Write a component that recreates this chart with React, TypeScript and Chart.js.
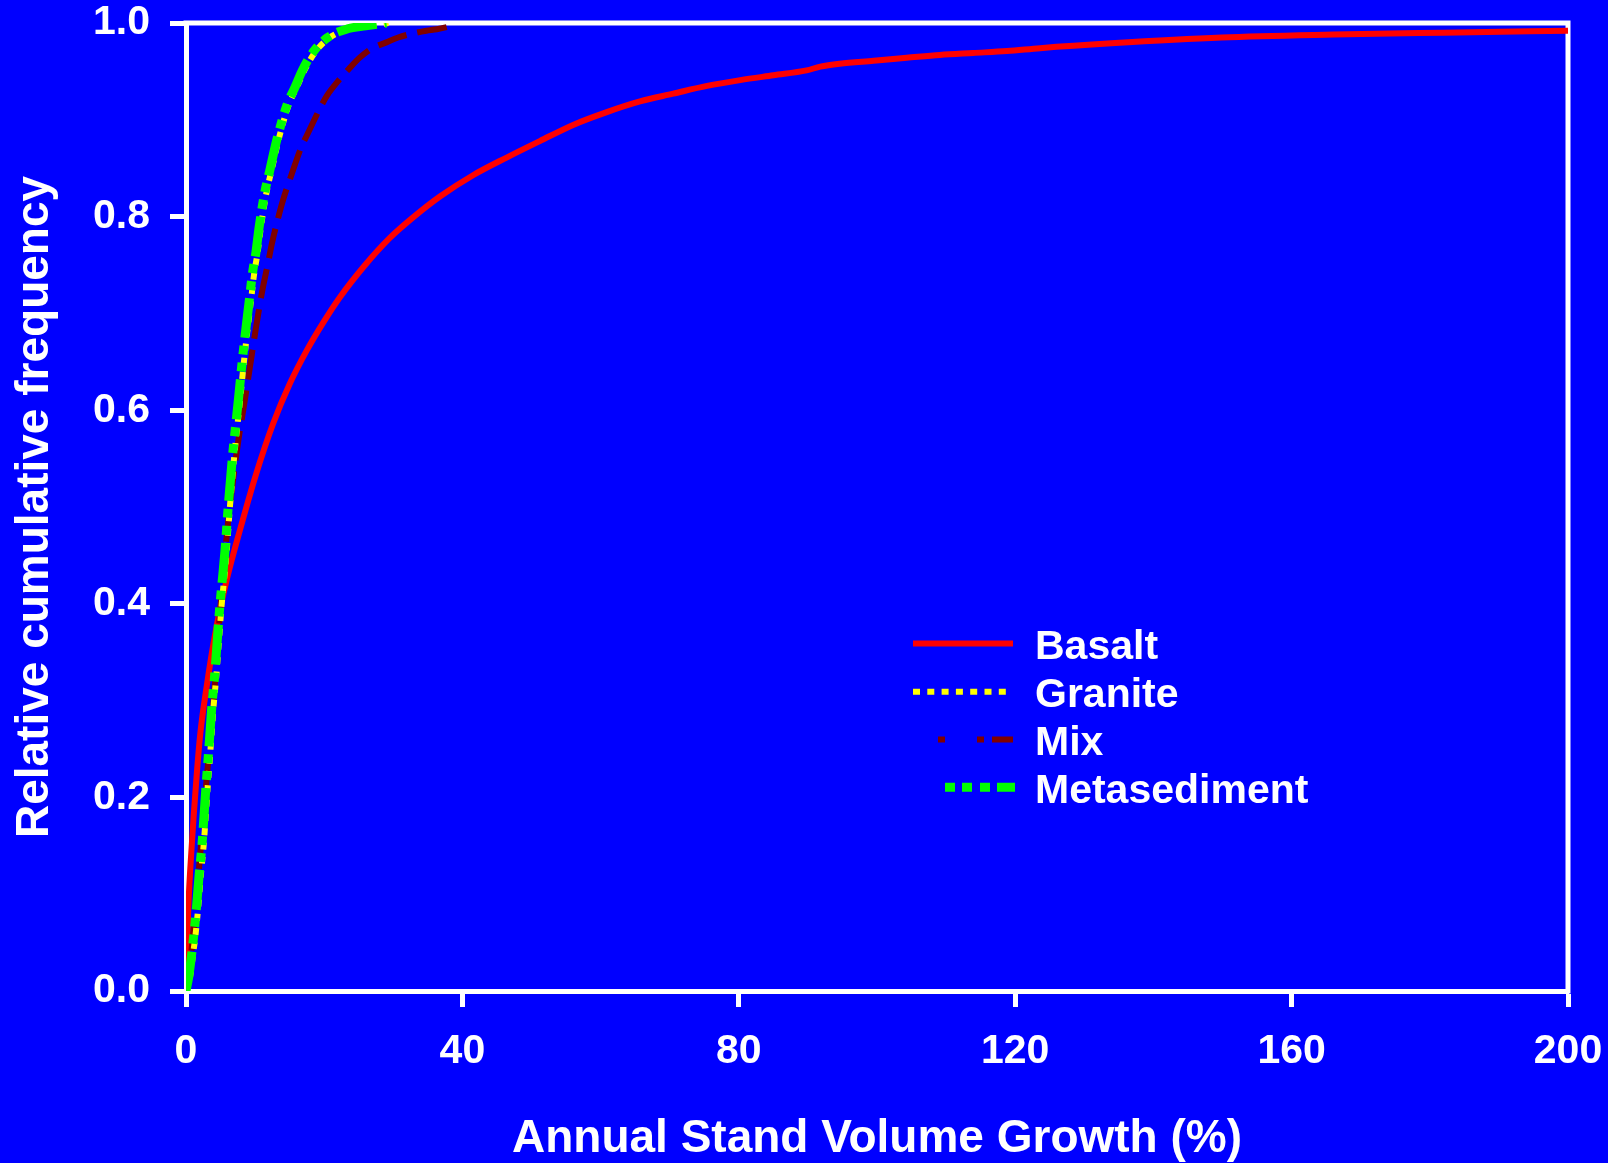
import React, { useEffect, useRef } from "react";
import { Chart, registerables } from "chart.js";

Chart.register(...registerables);

// Annual stand volume growth (%) vs relative cumulative frequency, by parent rock
const seriesNames = ["Basalt", "Granite", "Mix", "Metasediment"];
const xAxisTitle = "Annual Stand Volume Growth (%)";
const yAxisTitle = "Relative cumulative frequency";

const basaltX = [0, 0.3, 0.65, 1.1, 1.6, 2.07, 3.0, 4.25, 5.9, 7.8, 10.1, 12.6, 15.0, 17.5, 19.9, 22.3, 25.8, 29.5, 33.0, 36.8, 41.6, 46.4, 51.2, 56.1, 60.9, 65.7, 70.5, 75.4, 80.2, 85.0, 89.8, 91.8, 94.6, 99.5, 104.3, 109.1, 113.9, 118.8, 123.6, 133.9, 149.9, 166, 182, 200];
const basaltY = [0, 0.08, 0.13, 0.18, 0.228, 0.266, 0.315, 0.37, 0.425, 0.476, 0.533, 0.586, 0.627, 0.662, 0.691, 0.717, 0.749, 0.778, 0.8, 0.821, 0.843, 0.861, 0.878, 0.895, 0.908, 0.919, 0.927, 0.935, 0.941, 0.946, 0.951, 0.955, 0.958, 0.961, 0.964, 0.967, 0.969, 0.971, 0.974, 0.979, 0.985, 0.988, 0.99, 0.992];

const graniteX = [0, 0.6, 1.0, 1.35, 1.75, 2.15, 2.55, 2.85, 3.15, 3.45, 3.75, 4.0, 4.35, 4.75, 5.15, 5.55, 5.95, 6.3, 6.65, 7.05, 7.45, 7.85, 8.35, 8.85, 9.35, 9.9, 10.35, 10.85, 11.65, 12.45, 13.45, 14.85, 16.05, 17.2, 18.7, 20.8, 23.7, 26.3, 29.3];
const graniteY = [0, 0.015, 0.037, 0.056, 0.085, 0.12, 0.15, 0.18, 0.212, 0.24, 0.27, 0.295, 0.322, 0.36, 0.398, 0.428, 0.46, 0.495, 0.525, 0.558, 0.585, 0.612, 0.648, 0.68, 0.71, 0.743, 0.762, 0.79, 0.825, 0.85, 0.881, 0.915, 0.934, 0.952, 0.97, 0.985, 0.994, 0.997, 1.0];

const mixX = [0, 0.6, 1.2, 1.8, 2.4, 3.0, 3.5, 4.1, 4.6, 5.2, 6.1, 6.85, 7.6, 8.4, 9.26, 10.1, 11.0, 11.9, 12.4, 13.1, 14.0, 15.3, 16.7, 17.5, 19.4, 20.4, 22.0, 23.5, 25.2, 27.0, 29.0, 30.7, 32.7, 34.8, 36.3, 38.5];
const mixY = [0, 0.03, 0.07, 0.12, 0.17, 0.22, 0.26, 0.31, 0.36, 0.416, 0.485, 0.53, 0.57, 0.605, 0.645, 0.684, 0.722, 0.753, 0.771, 0.792, 0.816, 0.844, 0.872, 0.884, 0.912, 0.925, 0.94, 0.952, 0.9645, 0.974, 0.98, 0.985, 0.989, 0.992, 0.9935, 0.997];

const metaX = [0, 0.4, 0.8, 1.1, 1.5, 1.9, 2.3, 2.6, 2.9, 3.2, 3.5, 3.75, 4.1, 4.5, 4.9, 5.3, 5.7, 6.05, 6.4, 6.8, 7.2, 7.6, 8.1, 8.6, 9.1, 9.65, 10.1, 10.6, 11.4, 12.2, 13.2, 14.6, 15.8, 16.9, 18.4, 20.5, 23.4, 26, 29];
const metaY = [0, 0.015, 0.037, 0.056, 0.085, 0.12, 0.15, 0.18, 0.212, 0.24, 0.27, 0.295, 0.322, 0.36, 0.398, 0.428, 0.46, 0.495, 0.525, 0.558, 0.585, 0.612, 0.648, 0.68, 0.71, 0.743, 0.762, 0.79, 0.825, 0.85, 0.881, 0.915, 0.934, 0.952, 0.97, 0.985, 0.994, 0.997, 1.0];

const xTickMax = 200;
const xTickStep = 40;
const yTickMax = 1;
const yTickStep = 0.2;

const FONT = "'Liberation Sans', Arial, Helvetica, sans-serif";
const WHITE = "#FFFFFF";
const BG = "#0000FF";

const toPoints = (xs: number[], ys: number[]) => xs.map((x, i) => ({ x, y: ys[i] }));

type Style = { color: string; width: number; dash: number[]; legendDash: number[]; legendFrom: number; legendTo: number };

const styles: Style[] = [
  { color: "#FF0000", width: 6, dash: [], legendDash: [], legendFrom: 913, legendTo: 1013 },
  { color: "#FFFF00", width: 6, dash: [7, 7.3], legendDash: [7, 7.3], legendFrom: 913, legendTo: 1006 },
  { color: "#800000", width: 6, dash: [30, 11], legendDash: [7, 32, 7, 8, 22], legendFrom: 938, legendTo: 1013 },
  { color: "#00FF00", width: 9, dash: [40, 8, 9, 8, 9, 8], legendDash: [10, 7, 10, 8, 10, 7, 18], legendFrom: 945, legendTo: 1015 },
];

// Frame on the top and right of the plot area
const framePlugin = {
  id: "frame",
  beforeDatasetsDraw(chart: any) {
    const { ctx, chartArea } = chart;
    ctx.save();
    ctx.strokeStyle = WHITE;
    ctx.lineWidth = 5;
    ctx.beginPath();
    ctx.moveTo(chartArea.left - 2.5, chartArea.top);
    ctx.lineTo(chartArea.right, chartArea.top);
    ctx.lineTo(chartArea.right, chartArea.bottom + 2.5);
    ctx.stroke();
    ctx.restore();
  },
};

// X axis title, centred under the plot area near the bottom edge
const xTitlePlugin = {
  id: "xTitle",
  afterDraw(chart: any) {
    const { ctx, chartArea } = chart;
    ctx.save();
    ctx.fillStyle = WHITE;
    ctx.font = `bold 46px ${FONT}`;
    ctx.textAlign = "center";
    ctx.textBaseline = "alphabetic";
    ctx.fillText(xAxisTitle, (chartArea.left + chartArea.right) / 2, chart.height - 11);
    ctx.restore();
  },
};

// Line-sample legend inside the plot
const legendPlugin = {
  id: "sampleLegend",
  afterDatasetsDraw(chart: any) {
    const { ctx } = chart;
    const rowY = [643.5, 691.8, 739.5, 787.2];
    ctx.save();
    seriesNames.forEach((name, i) => {
      const s = styles[i];
      ctx.strokeStyle = s.color;
      ctx.lineWidth = s.width;
      ctx.lineCap = "butt";
      ctx.setLineDash(s.legendDash);
      ctx.beginPath();
      ctx.moveTo(s.legendFrom, rowY[i]);
      ctx.lineTo(s.legendTo, rowY[i]);
      ctx.stroke();
      ctx.setLineDash([]);
      ctx.fillStyle = WHITE;
      ctx.font = `bold 41px ${FONT}`;
      ctx.textAlign = "left";
      ctx.textBaseline = "alphabetic";
      ctx.fillText(name, 1035, rowY[i] + 15.5);
    });
    ctx.restore();
  },
};

export default function App() {
  const ref = useRef<HTMLCanvasElement>(null);

  useEffect(() => {
    document.body.style.margin = "0";
    const seriesX = [basaltX, graniteX, mixX, metaX];
    const seriesY = [basaltY, graniteY, mixY, metaY];
    const drawOrder = [3, 1, 2, 0];

    const chart = new Chart(ref.current as HTMLCanvasElement, {
      type: "scatter",
      data: {
        datasets: seriesNames.map((name, i) => ({
          label: name,
          data: toPoints(seriesX[i], seriesY[i]),
          showLine: true,
          borderColor: styles[i].color,
          backgroundColor: styles[i].color,
          borderWidth: styles[i].width,
          borderDash: styles[i].dash,
          borderCapStyle: "butt" as const,
          cubicInterpolationMode: "monotone" as const,
          pointRadius: 0,
          pointHoverRadius: 0,
          order: drawOrder[i],
        })),
      },
      options: {
        responsive: false,
        animation: false,
        events: [],
        layout: { padding: { left: 0, top: 23, right: 40, bottom: 0 } },
        plugins: {
          legend: { display: false },
          tooltip: { enabled: false },
          title: { display: false },
        },
        scales: {
          x: {
            type: "linear",
            min: 0,
            max: xTickMax,
            ticks: {
              stepSize: xTickStep,
              color: WHITE,
              padding: 20,
              maxRotation: 0,
              font: { family: FONT, size: 41, weight: "bold" },
            },
            grid: {
              display: true,
              drawOnChartArea: false,
              drawTicks: true,
              tickLength: 16,
              tickWidth: 5,
              tickColor: WHITE,
            },
            border: { display: true, color: WHITE, width: 5 },
            title: { display: false },
            afterFit(scale: any) {
              scale.height = 172;
              scale.paddingLeft = 0;
              scale.paddingRight = 0;
              scale.paddingTop = 0;
              scale.paddingBottom = 0;
            },
          },
          y: {
            type: "linear",
            min: 0,
            max: yTickMax,
            ticks: {
              stepSize: yTickStep,
              color: WHITE,
              padding: 20,
              font: { family: FONT, size: 41, weight: "bold" },
              callback: (v: any) => Number(v).toFixed(1),
            },
            grid: {
              display: true,
              drawOnChartArea: false,
              drawTicks: true,
              tickLength: 16,
              tickWidth: 5,
              tickColor: WHITE,
            },
            border: { display: true, color: WHITE, width: 5 },
            title: {
              display: true,
              text: yAxisTitle,
              color: WHITE,
              font: { family: FONT, size: 46, weight: "bold" },
              padding: { top: 8, bottom: 0 },
            },
            afterFit(scale: any) {
              scale.width = 186;
              scale.paddingLeft = 0;
              scale.paddingRight = 0;
              scale.paddingTop = 0;
              scale.paddingBottom = 0;
            },
          },
        },
      },
      plugins: [framePlugin, legendPlugin, xTitlePlugin],
    } as any);

    return () => chart.destroy();
  }, []);

  return (
    <div style={{ position: "fixed", left: 0, top: 0, width: 1608, height: 1163, background: BG }}>
      <canvas ref={ref} width={1608} height={1163} style={{ display: "block" }} />
    </div>
  );
}
